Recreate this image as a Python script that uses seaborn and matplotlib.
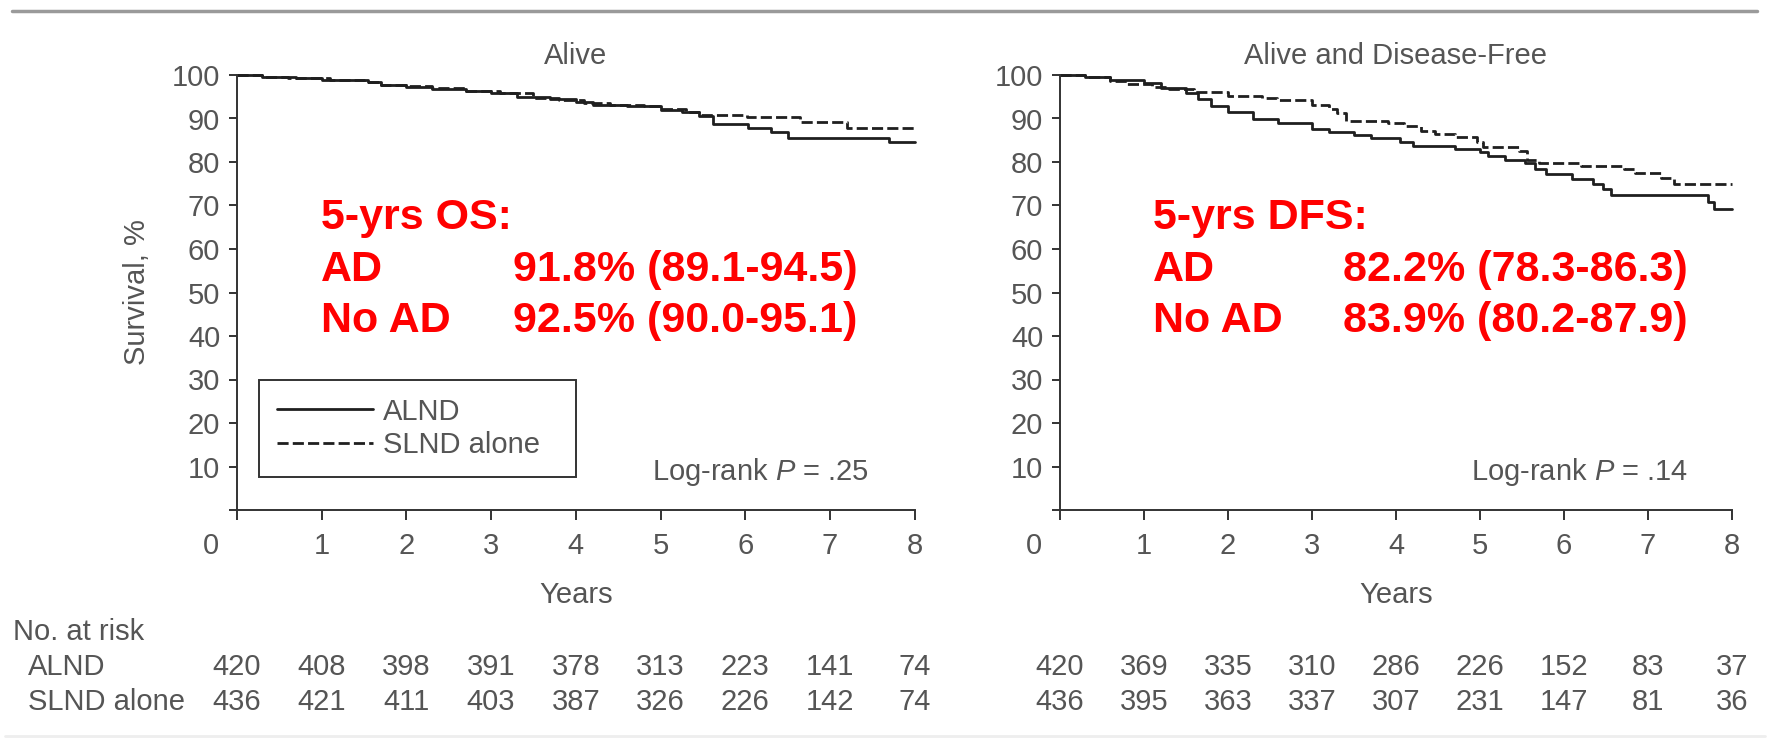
import numpy as np
import pandas as pd
import matplotlib
matplotlib.use("Agg")
import matplotlib.pyplot as plt
import seaborn as sns
from matplotlib import transforms
from matplotlib.lines import Line2D

# Kaplan-Meier step values (time in years, survival in %)
os_alnd_t = [0, 0.3, 0.7, 1.0, 1.55, 1.7, 2.0, 2.3, 2.7, 3.0, 3.3, 3.7, 4.0, 4.2, 4.6,
             5.0, 5.25, 5.45, 5.62, 6.03, 6.3, 6.5, 7.7, 8.0]
os_alnd_s = [100, 99.6, 99.2, 98.9, 98.3, 97.8, 97.3, 96.8, 96.4, 95.9, 95.0, 94.5, 93.9,
             93.2, 92.9, 92.0, 91.4, 90.6, 88.8, 87.9, 86.9, 85.6, 84.6, 84.6]
os_slnd_t = [0, 0.3, 0.6, 1.1, 1.5, 1.7, 2.0, 2.3, 2.7, 3.1, 3.5, 3.8, 4.1, 4.4, 4.8,
             5.0, 5.3, 5.45, 5.68, 6.02, 6.65, 7.2, 8.0]
os_slnd_s = [100, 99.6, 99.3, 98.9, 98.4, 97.8, 97.4, 96.9, 96.4, 95.8, 94.8, 94.3, 93.6,
             93.1, 92.8, 92.1, 91.6, 90.9, 90.7, 90.3, 89.3, 87.9, 87.9]

dfs_alnd_t = [0, 0.3, 0.6, 1.0, 1.2, 1.5, 1.64, 1.8, 2.0, 2.3, 2.6, 3.0, 3.2, 3.5, 3.7,
              4.05, 4.2, 4.7, 5.0, 5.09, 5.3, 5.53, 5.65, 5.78, 6.09, 6.35, 6.47, 6.56,
              7.72, 7.78, 8.0]
dfs_alnd_s = [100, 99.5, 98.9, 98.1, 96.9, 95.9, 94.4, 92.8, 91.6, 89.9, 88.9, 87.7, 86.9,
              86.2, 85.6, 84.6, 83.6, 83.1, 82.3, 81.3, 80.5, 79.7, 78.4, 77.2, 76.2, 75.0,
              73.9, 72.3, 70.7, 69.2, 69.2]
dfs_slnd_t = [0, 0.3, 0.6, 0.8, 1.1, 1.3, 1.6, 2.0, 2.4, 2.58, 3.0, 3.2, 3.3, 3.4, 3.9,
              4.1, 4.3, 4.46, 4.7, 4.96, 5.03, 5.46, 5.56, 5.7, 6.2, 6.72, 6.84, 7.15,
              7.31, 8.0]
dfs_slnd_s = [100, 99.5, 98.6, 98.0, 97.3, 96.7, 96.2, 95.2, 94.6, 94.2, 93.2, 92.1, 91.3,
              89.5, 89.0, 88.3, 87.2, 86.4, 85.8, 84.6, 83.4, 82.5, 80.5, 79.7, 79.0, 78.5,
              77.4, 76.4, 74.9, 74.9]

years = [0, 1, 2, 3, 4, 5, 6, 7, 8]
os_risk_alnd = [420, 408, 398, 391, 378, 313, 223, 141, 74]
os_risk_slnd = [436, 421, 411, 403, 387, 326, 226, 142, 74]
dfs_risk_alnd = [420, 369, 335, 310, 286, 226, 152, 83, 37]
dfs_risk_slnd = [436, 395, 363, 337, 307, 231, 147, 81, 36]

arms = ["ALND", "SLND alone"]
titles = ["Alive", "Alive and Disease-Free"]
pvals = ["Log-rank $P$ = .25", "Log-rank $P$ = .14"]
red_head = ["5-yrs OS:", "5-yrs DFS:"]
red_ad = ["91.8% (89.1-94.5)", "82.2% (78.3-86.3)"]
red_noad = ["92.5% (90.0-95.1)", "83.9% (80.2-87.9)"]


def km_frame(t1, s1, t2, s2):
    a = pd.DataFrame({"time": t1, "surv": s1, "arm": arms[0]})
    b = pd.DataFrame({"time": t2, "surv": s2, "arm": arms[1]})
    return pd.concat([a, b], ignore_index=True)


panels = [km_frame(os_alnd_t, os_alnd_s, os_slnd_t, os_slnd_s),
          km_frame(dfs_alnd_t, dfs_alnd_s, dfs_slnd_t, dfs_slnd_s)]
risks = [(os_risk_alnd, os_risk_slnd), (dfs_risk_alnd, dfs_risk_slnd)]

sns.set_style("ticks")
plt.rcParams["font.family"] = ["Liberation Sans", "DejaVu Sans"]
plt.rcParams["mathtext.fontset"] = "custom"
plt.rcParams["mathtext.rm"] = "Liberation Sans"
plt.rcParams["mathtext.it"] = "Liberation Sans:italic"

W, H = 1770, 742
fs = 21
gray = "#555555"
ink = "#1f1f1f"

fig = plt.figure(figsize=(W / 100, H / 100), dpi=100)


def fx(px):
    return px / W


def fy(py):
    return 1 - py / H


ax_left = [237, 1060]
ax_right = [914.6, 1732]
ax_top, ax_bot = 75, 510

for i, df in enumerate(panels):
    ax = fig.add_axes([fx(ax_left[i]), fy(ax_bot), fx(ax_right[i] - ax_left[i]),
                       (ax_bot - ax_top) / H])
    sns.lineplot(data=df, x="time", y="surv", hue="arm", style="arm",
                 palette={arms[0]: ink, arms[1]: ink},
                 dashes={arms[0]: "", arms[1]: (4, 1.5)},
                 estimator=None, sort=False, drawstyle="steps-post",
                 lw=2.0, ax=ax, legend=(i == 0))
    for ln in ax.get_lines():
        ln.set_clip_on(False)
    ax.set_xlim(0, 8)
    ax.set_ylim(0, 100)
    ax.set_xticks(years)
    ax.set_xticklabels([str(y) for y in years])
    ax.set_yticks(range(0, 101, 10))
    ax.set_yticklabels([""] + [str(v) for v in range(10, 101, 10)])
    sns.despine(ax=ax)
    for s in ["left", "bottom"]:
        ax.spines[s].set_color("#333333")
        ax.spines[s].set_linewidth(1.4)
    ax.tick_params(axis="x", length=7, width=1.4, color="#333333", pad=9,
                   labelsize=fs, labelcolor=gray)
    ax.tick_params(axis="y", length=6, width=1.4, color="#333333", pad=6,
                   labelsize=fs, labelcolor=gray)
    # the "0" label sits left of its tick in the original
    shift = transforms.ScaledTranslation(-0.26, 0, fig.dpi_scale_trans)
    lab0 = ax.get_xticklabels()[0]
    lab0.set_transform(lab0.get_transform() + shift)

    ax.set_title(titles[i], fontsize=fs, color=gray, pad=8)
    ax.set_xlabel("Years", fontsize=fs, color=gray, labelpad=15)
    if i == 0:
        ax.set_ylabel("Survival, %", fontsize=fs, color=gray)
        ax.yaxis.set_label_coords((151 - 237) / 677.6, 0.5)
        handles, labels = ax.get_legend_handles_labels()
        ax.get_legend().remove()
        leg = ax.legend(handles, labels, loc="upper left",
                        bbox_to_anchor=(fx(259), fy(488), fx(317), 108 / H),
                        bbox_transform=fig.transFigure, mode="expand",
                        borderaxespad=0, fontsize=fs, handlelength=3.3,
                        handletextpad=0.35, borderpad=0.6, labelspacing=0.2,
                        fancybox=False, framealpha=1, edgecolor="#333333")
        leg.get_frame().set_linewidth(1.4)
        for t in leg.get_texts():
            t.set_color(gray)
    else:
        ax.set_ylabel("")

    ax.text(fx([652, 1471][i]), fy(480), pvals[i], transform=fig.transFigure,
            fontsize=fs, color=gray, va="baseline", ha="left")

    # red annotation block
    x_lab = [321, 1153][i]
    x_val = [513, 1343][i]
    red = dict(transform=fig.transFigure, fontsize=31, color="#ff0000",
               fontweight="bold", va="baseline", ha="left")
    fig.text(fx(x_lab), fy(229), red_head[i], **red)
    fig.text(fx(x_lab), fy(281), "AD", **red)
    fig.text(fx(x_val), fy(281), red_ad[i], **red)
    fig.text(fx(x_lab), fy(332), "No AD", **red)
    fig.text(fx(x_val), fy(332), red_noad[i], **red)

    # numbers at risk under each tick
    tr = transforms.blended_transform_factory(ax.transData, fig.transFigure)
    for row, yb in zip(risks[i], [675, 710]):
        for yr, n in zip(years, row):
            ax.text(yr, fy(yb), str(n), transform=tr, fontsize=fs, color=gray,
                    ha="center", va="baseline")

fig.text(fx(13), fy(640), "No. at risk", fontsize=fs, color=gray, va="baseline")
fig.text(fx(28), fy(675), "ALND", fontsize=fs, color=gray, va="baseline")
fig.text(fx(28), fy(710), "SLND alone", fontsize=fs, color=gray, va="baseline")

fig.add_artist(Line2D([fx(12), fx(1757)], [fy(11), fy(11)], color="#9a9a9a", lw=2.5))
fig.add_artist(Line2D([fx(5), fx(1765)], [fy(736), fy(736)], color="#eeeeee", lw=2))

fig.savefig("out.png", dpi=100)
